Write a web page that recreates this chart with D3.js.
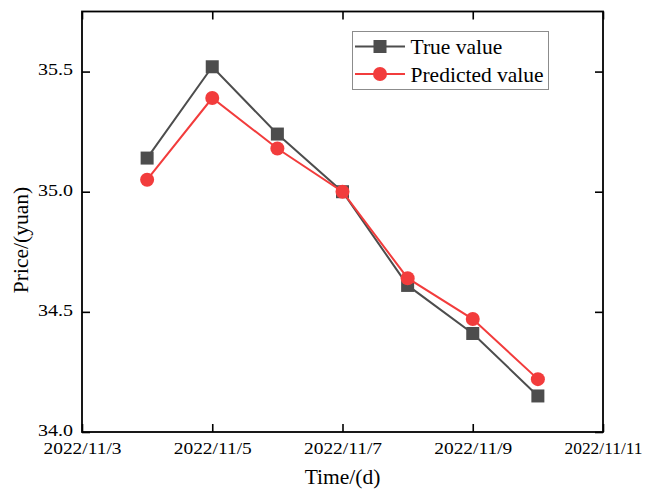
<!DOCTYPE html>
<html>
<head>
<meta charset="utf-8">
<script src="https://cdn.jsdelivr.net/npm/d3@7"></script>
<style>
  html, body { margin: 0; padding: 0; background: #fff; }
  svg { display: block; }
  text { font-family: "Liberation Serif", "Times New Roman", serif; fill: #000; }
</style>
</head>
<body>
<svg id="chart" width="646" height="493"></svg>
<script>
// Daily prices (yuan)
const dates = ["2022/11/4", "2022/11/5", "2022/11/6", "2022/11/7", "2022/11/8", "2022/11/9", "2022/11/10"];
const trueValues = [35.14, 35.52, 35.24, 35.00, 34.61, 34.41, 34.15];
const predictedValues = [35.05, 35.39, 35.18, 35.00, 34.64, 34.47, 34.22];

const xTickLabels = ["2022/11/3", "2022/11/5", "2022/11/7", "2022/11/9", "2022/11/11"];
const yTickLabels = [34.0, 34.5, 35.0, 35.5];
const seriesNames = ["True value", "Predicted value"];

const parseDate = d3.timeParse("%Y/%m/%d");
const fmtDate = d => `${d.getFullYear()}/${d.getMonth() + 1}/${d.getDate()}`;

const svg = d3.select("#chart");
const plotL = 82, plotR = 603, plotT = 11.5, plotB = 432;

const x = d3.scaleTime()
  .domain([parseDate("2022/11/3"), parseDate("2022/11/11")])
  .range([plotL, plotR]);
const y = d3.scaleLinear()
  .domain([34.0, 35.75])
  .range([plotB, plotT]);

const xTicks = xTickLabels.map(parseDate);
const tickLen = 8;

// Bottom axis with inward ticks
const gx = svg.append("g")
  .attr("transform", `translate(0,${plotB})`)
  .call(d3.axisBottom(x).tickValues(xTicks).tickFormat(fmtDate)
    .tickSizeInner(-tickLen).tickSizeOuter(0).tickPadding(10));
gx.selectAll("text").attr("font-size", 16.5)
  .attr("textLength", 78).attr("lengthAdjust", "spacingAndGlyphs");

// Top axis (ticks only)
svg.append("g")
  .attr("transform", `translate(0,${plotT})`)
  .call(d3.axisTop(x).tickValues(xTicks).tickFormat("")
    .tickSizeInner(-tickLen).tickSizeOuter(0));

// Left axis
const gy = svg.append("g")
  .attr("transform", `translate(${plotL},0)`)
  .call(d3.axisLeft(y).tickValues(yTickLabels).tickFormat(d3.format(".1f"))
    .tickSizeInner(-tickLen).tickSizeOuter(0).tickPadding(9));
gy.selectAll("text").attr("font-size", 16.5).attr("dy", "0.2em")
  .attr("textLength", 35).attr("lengthAdjust", "spacingAndGlyphs");

// Right axis (ticks only)
svg.append("g")
  .attr("transform", `translate(${plotR},0)`)
  .call(d3.axisRight(y).tickValues(yTickLabels).tickFormat("")
    .tickSizeInner(-tickLen).tickSizeOuter(0));

svg.selectAll(".domain").remove();
svg.selectAll(".tick line").attr("stroke", "#000").attr("stroke-width", 1.6);

// Plot frame
svg.append("rect")
  .attr("x", plotL).attr("y", plotT)
  .attr("width", plotR - plotL).attr("height", plotB - plotT)
  .attr("fill", "none").attr("stroke", "#000").attr("stroke-width", 1.8);

// Axis titles
svg.append("text")
  .attr("x", (plotL + plotR) / 2).attr("y", 484)
  .attr("text-anchor", "middle").attr("font-size", 21.5)
  .text("Time/(d)");
svg.append("text")
  .attr("transform", `translate(28,240) rotate(-90)`)
  .attr("text-anchor", "middle").attr("font-size", 21.5)
  .text("Price/(yuan)");

const colors = ["#4d4d4d", "#f23c3c"];
const pts = dates.map(parseDate);
const line = d3.line().x((d, i) => x(pts[i])).y(d => y(d));

// True value series
svg.append("path").datum(trueValues)
  .attr("d", line).attr("fill", "none")
  .attr("stroke", colors[0]).attr("stroke-width", 2);
svg.selectAll(".sq").data(trueValues).enter().append("rect")
  .attr("x", (d, i) => x(pts[i]) - 6.5).attr("y", d => y(d) - 6.5)
  .attr("width", 13).attr("height", 13).attr("fill", colors[0]);

// Predicted value series
svg.append("path").datum(predictedValues)
  .attr("d", line).attr("fill", "none")
  .attr("stroke", colors[1]).attr("stroke-width", 2);
svg.selectAll(".ci").data(predictedValues).enter().append("circle")
  .attr("cx", (d, i) => x(pts[i])).attr("cy", d => y(d))
  .attr("r", 7).attr("fill", colors[1]);

// Legend
const lg = svg.append("g");
lg.append("rect")
  .attr("x", 352.5).attr("y", 31.5).attr("width", 196).attr("height", 58)
  .attr("fill", "#fff").attr("stroke", "#8c8c8c").attr("stroke-width", 1);
const rowsY = [46.5, 74];
seriesNames.forEach((name, i) => {
  lg.append("line")
    .attr("x1", 355).attr("x2", 405).attr("y1", rowsY[i]).attr("y2", rowsY[i])
    .attr("stroke", colors[i]).attr("stroke-width", 2);
  if (i === 0) {
    lg.append("rect").attr("x", 380 - 6.5).attr("y", rowsY[i] - 6.5)
      .attr("width", 13).attr("height", 13).attr("fill", colors[i]);
  } else {
    lg.append("circle").attr("cx", 380).attr("cy", rowsY[i]).attr("r", 7)
      .attr("fill", colors[i]);
  }
  lg.append("text").attr("x", 410.5).attr("y", rowsY[i] + 7.5)
    .attr("font-size", 21.5).text(name);
});
</script>
</body>
</html>
